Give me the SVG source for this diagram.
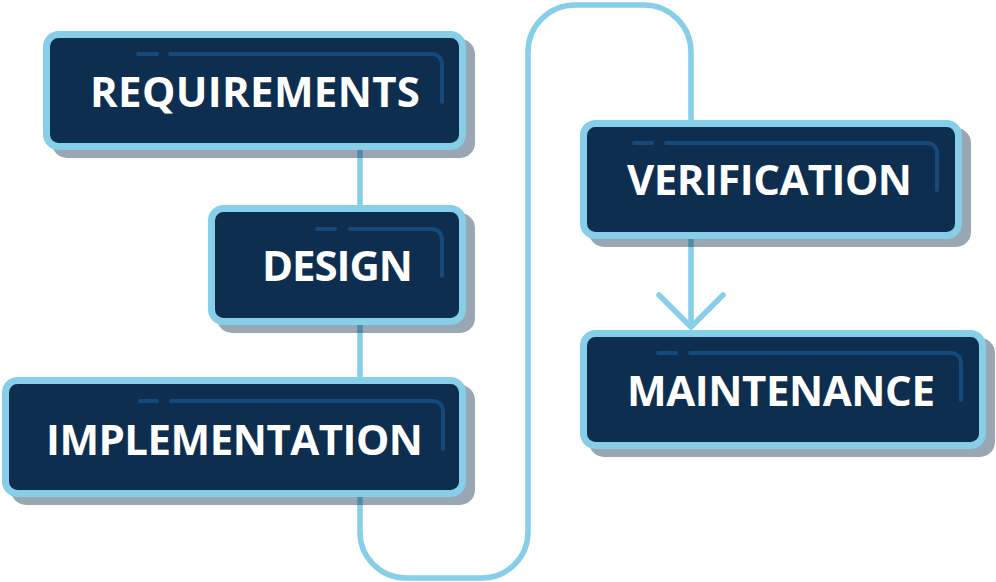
<svg xmlns="http://www.w3.org/2000/svg" width="996" height="582" viewBox="0 0 996 582">
<style>
.conn{fill:none;stroke:#87cee9;stroke-width:5.5;stroke-linecap:round;stroke-linejoin:round}
.shadow{fill:#0d2c4a;fill-opacity:0.42}
.box{fill:#0e2e50;stroke:#87cee9;stroke-width:7}
.deco{fill:none;stroke:#154a7a;stroke-width:4;stroke-linecap:round}
.label{font-family:"Open Sans","Liberation Sans",sans-serif;font-weight:700;font-size:42px;fill:#ffffff}
</style>
<rect width="996" height="582" fill="#ffffff"/>
<g id="connectors">
<path class="conn" d="M360 145 V532 A46 46 0 0 0 406 578 H482 A46 46 0 0 0 528 532 V52 A47 47 0 0 1 575 5 H644 A47 47 0 0 1 691 52 V125"/>
<path class="conn" d="M691 235 V326"/>
<path class="conn" d="M659 295 L691 327 L723 295"/>
</g>
<g id="requirements">
<rect class="shadow" x="52" y="39" width="423" height="119" rx="15"/>
<rect class="box" x="46.5" y="34.5" width="416" height="112" rx="12"/>
<path class="deco" d="M138 54 H157 M170 54 H432 A10 10 0 0 1 442 64 V102"/>
<text class="label" x="90" y="107" textLength="330">REQUIREMENTS</text>
</g>
<g id="design">
<rect class="shadow" x="217" y="213" width="258" height="120" rx="15"/>
<rect class="box" x="211.5" y="208.5" width="251" height="113" rx="12"/>
<path class="deco" d="M317 229 H335 M350 229 H432 A10 10 0 0 1 442 239 V276"/>
<text class="label" x="262" y="281" textLength="151">DESIGN</text>
</g>
<g id="implementation">
<rect class="shadow" x="11" y="385" width="464" height="120" rx="15"/>
<rect class="box" x="5.5" y="380.5" width="457" height="113" rx="12"/>
<path class="deco" d="M140 401 H157 M171 401 H433 A10 10 0 0 1 443 411 V449"/>
<text class="label" x="46" y="455" textLength="377">IMPLEMENTATION</text>
</g>
<g id="verification">
<rect class="shadow" x="589" y="128" width="382" height="119" rx="15"/>
<rect class="box" x="583.5" y="123.5" width="375" height="112" rx="12"/>
<path class="deco" d="M634 143 H652 M666 143 H927 A10 10 0 0 1 937 153 V190"/>
<text class="label" x="627" y="195" textLength="285">VERIFICATION</text>
</g>
<g id="maintenance">
<rect class="shadow" x="589" y="338" width="406" height="119" rx="15"/>
<rect class="box" x="583.5" y="333.5" width="399" height="112" rx="12"/>
<path class="deco" d="M658 353 H676 M690 353 H951 A10 10 0 0 1 961 363 V400"/>
<text class="label" x="627" y="406" textLength="308">MAINTENANCE</text>
</g>
</svg>
